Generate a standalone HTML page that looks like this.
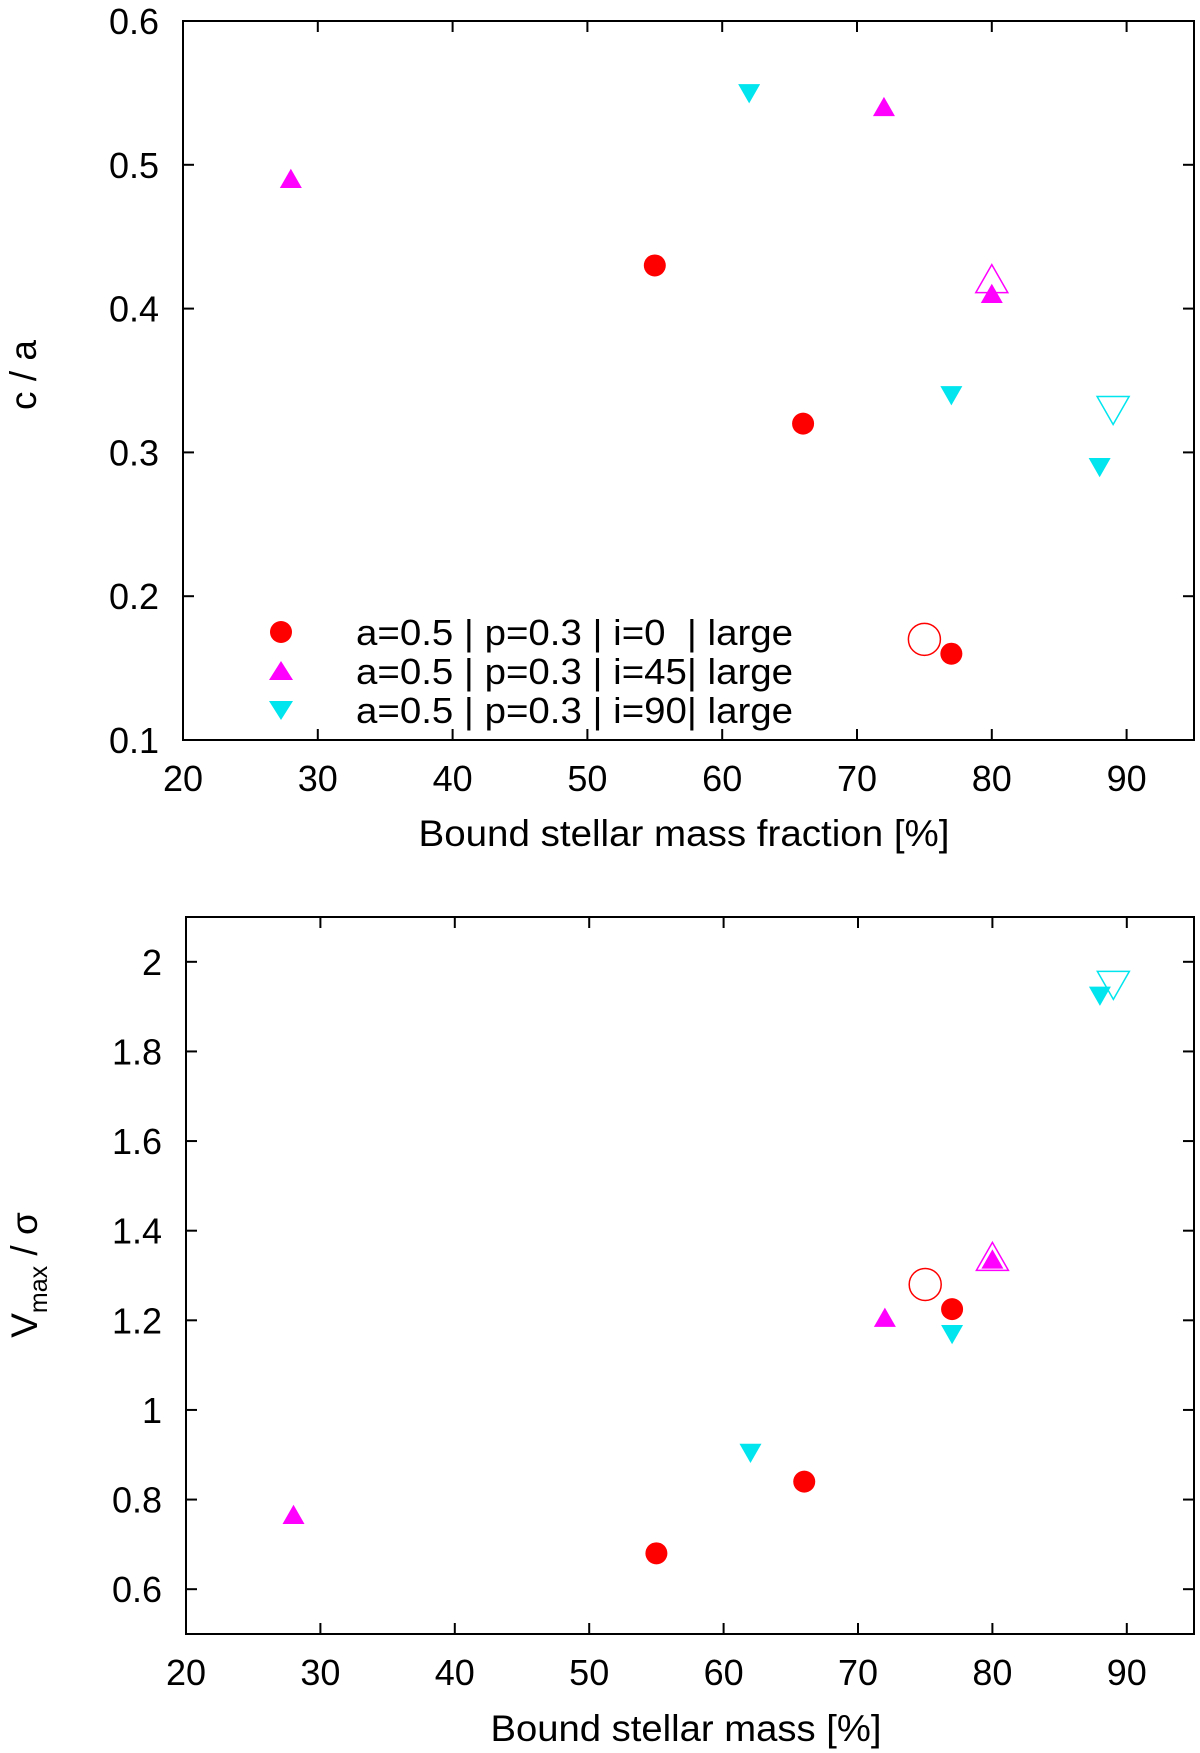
<!DOCTYPE html>
<html><head><meta charset="utf-8"><style>
html,body{margin:0;padding:0;background:#fff;}
svg{display:block;font-family:"Liberation Sans",Arial,sans-serif;}
</style></head><body>
<svg id="chart" width="1200" height="1753" viewBox="0 0 1200 1753"></svg>
<script>
// ---- data ----
const xTicks = [20,30,40,50,60,70,80,90];
const topYTicks = [0.1,0.2,0.3,0.4,0.5,0.6];
const botYTicks = [0.6,0.8,1,1.2,1.4,1.6,1.8,2];
const botYLabels = ["0.6","0.8","1","1.2","1.4","1.6","1.8","2"];
const redX = [55,66,77];
const redTop = [0.43,0.32,0.16];
const redBot = [0.68,0.84,1.225];
const magX = [28,72,80];
const magTop = [0.49,0.54,0.41];
const magBot = [0.765,1.205,1.335];
const cyanX = [62,77,88];
const cyanTop = [0.55,0.34,0.29];
const cyanBot = [0.905,1.17,1.925];
const openRedX = [75], openRedTop = [0.17], openRedBot = [1.28];
const openMagX = [80], openMagTop = [0.42], openMagBot = [1.34];
const openCyanX = [89], openCyanTop = [0.33], openCyanBot = [1.95];
const legendLabels = ["a=0.5 | p=0.3 | i=0  | large","a=0.5 | p=0.3 | i=45| large","a=0.5 | p=0.3 | i=90| large"];

const NS="http://www.w3.org/2000/svg";
const svg=document.getElementById('chart');
function mk(tag,attrs,parent){const e=document.createElementNS(NS,tag);for(const k in attrs)e.setAttribute(k,attrs[k]);(parent||svg).appendChild(e);return e;}

function panel(cfg){
  const g=mk('g',{});
  
  
  const X=v=>cfg.x0+(v-cfg.xmin)/(cfg.xmax-cfg.xmin)*(cfg.x1-cfg.x0);
  const Y=v=>cfg.y1-(v-cfg.ymin)/(cfg.ymax-cfg.ymin)*(cfg.y1-cfg.y0);
  const fr=mk('rect',{x:cfg.x0,y:cfg.y0,width:cfg.x1-cfg.x0,height:cfg.y1-cfg.y0,fill:'none',stroke:'#000','stroke-width':2},g);
  
  
  xTicks.forEach(t=>{
    const x=X(t);
    mk('line',{x1:x,x2:x,y1:cfg.y1,y2:cfg.y1-11,stroke:'#000','stroke-width':2},g);
    mk('line',{x1:x,x2:x,y1:cfg.y0,y2:cfg.y0+11,stroke:'#000','stroke-width':2},g);
    const tx=mk('text',{x:x,y:cfg.y1+51,'font-size':36,'text-anchor':'middle'},g);
    tx.textContent=t;
    
    
  });
  cfg.yTicks.forEach((t,i)=>{
    const y=Y(t);
    mk('line',{x1:cfg.x0,x2:cfg.x0+11,y1:y,y2:y,stroke:'#000','stroke-width':2},g);
    mk('line',{x1:cfg.x1,x2:cfg.x1-11,y1:y,y2:y,stroke:'#000','stroke-width':2},g);
    const tx=mk('text',{x:cfg.x0-24,y:y+13,'font-size':36,'text-anchor':'end'},g);
    tx.textContent=cfg.yLabels?cfg.yLabels[i]:t.toFixed(1);
    
    
  });
  function circ(xs,ys,filled,name){xs.forEach((v,i)=>{const c=mk('circle',{cx:X(v),cy:Y(ys[i]),r:filled?11:16,fill:filled?'#ff0000':'none',stroke:'#ff0000','stroke-width':filled?0:1.5},g);});}
  function tri(xs,ys,filled,up,color,name){xs.forEach((v,i)=>{const x=X(v),y=Y(ys[i]);const s=filled?11:16;
    const pts=up?`${x-s},${y+s*0.8} ${x+s},${y+s*0.8} ${x},${y-s*0.95}`:`${x-s},${y-s*0.8} ${x+s},${y-s*0.8} ${x},${y+s*0.95}`;
    const p=mk('polygon',{points:pts,fill:filled?color:'none',stroke:color,'stroke-width':filled?0:1.5},g);});}
  circ(redX,cfg.red,true,'point-i0');
  circ(openRedX,cfg.ored,false,'open-point-i0');
  tri(magX,cfg.mag,true,true,'#ff00ff','point-i45');
  tri(openMagX,cfg.omag,false,true,'#ff00ff','open-point-i45');
  tri(cyanX,cfg.cyan,true,false,'#00e5ee','point-i90');
  tri(openCyanX,cfg.ocyan,false,false,'#00e5ee','open-point-i90');
  return g;
}

panel({name:'top-panel',x0:183,x1:1194,y0:21,y1:740,xmin:20,xmax:95,ymin:0.1,ymax:0.6,yTicks:topYTicks,
  red:redTop,ored:openRedTop,mag:magTop,omag:openMagTop,cyan:cyanTop,ocyan:openCyanTop});
panel({name:'bottom-panel',x0:186,x1:1194,y0:917,y1:1634,xmin:20,xmax:95,ymin:0.5,ymax:2.1,yTicks:botYTicks,yLabels:botYLabels,
  red:redBot,ored:openRedBot,mag:magBot,omag:openMagBot,cyan:cyanBot,ocyan:openCyanBot});

// legend
const lg=mk('g',{});


const ly=[632,671,710];
mk('circle',{cx:281,cy:ly[0],r:11,fill:'#ff0000'},lg);
mk('polygon',{points:`269,${ly[1]+9} 293,${ly[1]+9} 281,${ly[1]-10}`,fill:'#ff00ff'},lg);
mk('polygon',{points:`269,${ly[2]-9} 293,${ly[2]-9} 281,${ly[2]+10}`,fill:'#00e5ee'},lg);
legendLabels.forEach((t,i)=>{const tx=mk('text',{x:356,y:ly[i]+13,'font-size':36,textLength:437,lengthAdjust:'spacingAndGlyphs',style:'white-space:pre'},lg);tx.textContent=t;
  
  });

// axis titles
let t=mk('text',{x:684,y:846,'font-size':37,'text-anchor':'middle',textLength:531,lengthAdjust:'spacingAndGlyphs'});t.textContent='Bound stellar mass fraction [%]';


t=mk('text',{x:686,y:1741,'font-size':37,'text-anchor':'middle',textLength:391,lengthAdjust:'spacingAndGlyphs'});t.textContent='Bound stellar mass [%]';


t=mk('text',{x:0,y:0,'font-size':37,'text-anchor':'middle',transform:'translate(36,375) rotate(-90)'});t.textContent='c / a';


t=mk('text',{x:0,y:0,'font-size':37,'text-anchor':'middle',transform:'translate(37,1275) rotate(-90)'});


const s1=mk('tspan',{},t);s1.textContent='V';
const s2=mk('tspan',{'font-size':25,dy:10},t);s2.textContent='max';
const s3=mk('tspan',{dy:-10},t);s3.textContent=' / σ';
</script>
</body></html>
